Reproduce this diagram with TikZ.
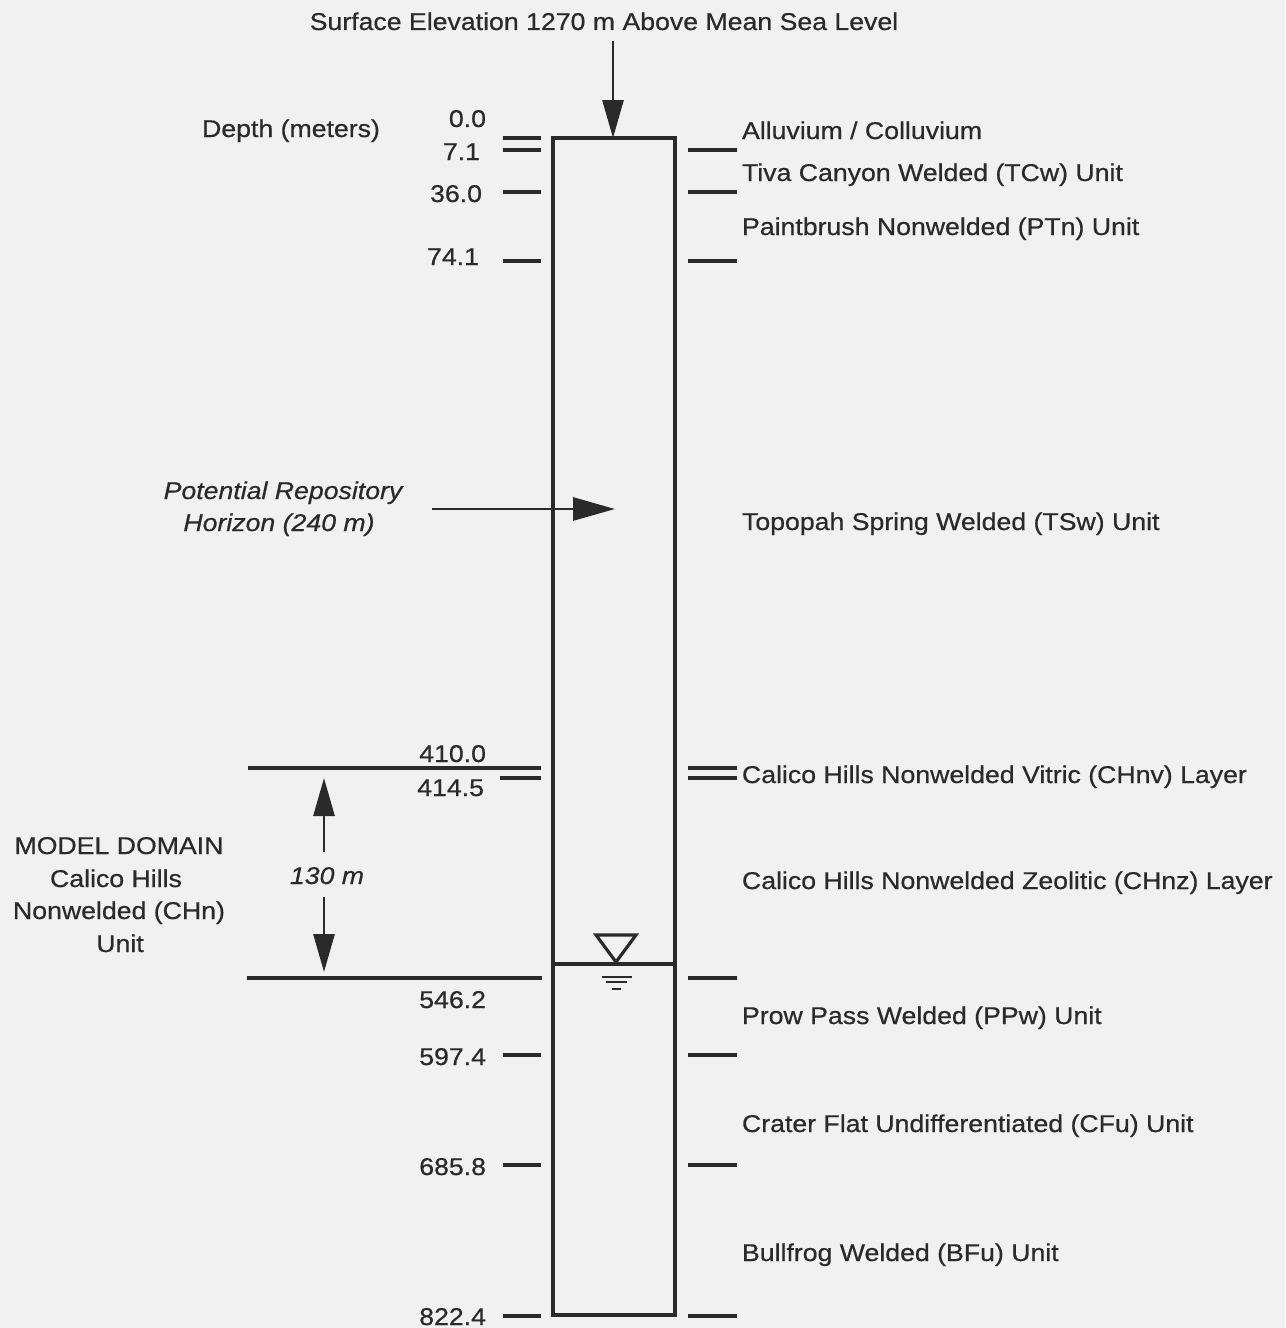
\documentclass[tikz,border=0pt]{standalone}
\usepackage{fontspec}
\setmainfont[FakeStretch=1.1,FakeBold=0.6]{Liberation Sans}
\usetikzlibrary{arrows.meta}
\definecolor{ink}{HTML}{2A2A2A}
\definecolor{paper}{HTML}{F1F1F1}
\begin{document}
\begin{tikzpicture}[x=0.02cm,y=-0.02cm,
  lbl/.style={inner sep=0pt, outer sep=0pt, text=ink, font=\fontsize{13.8}{16}\selectfont},
  num/.style={lbl, anchor=base east},
  unitlbl/.style={lbl, anchor=base west},
  centerlbl/.style={lbl, anchor=base},
  itlbl/.style={centerlbl, font=\fontsize{13.8}{16}\selectfont\itshape},
  tick/.style={draw=ink, line width=2pt},
  col/.style={draw=ink, line width=2pt},
  bigarrow/.style={draw=ink, line width=1.6pt, -{Triangle[length=0.76cm,width=0.42cm]}},
]
\fill[paper] (0,0) rectangle (1285,1328);
\useasboundingbox (0,0) rectangle (1285,1328);

% title and top arrow
\node[centerlbl] (title) at (604,30) {Surface Elevation 1270 m Above Mean Sea Level};
\coordinate (topstart) at (613,41);
\coordinate (boxtl) at (553,138);
\coordinate (boxbr) at (675,1315);
\coordinate (toptip) at (613,138);

% column
\draw[col] (boxtl) rectangle (boxbr);
\draw[bigarrow] (topstart) -- (toptip);

% left header
\node[centerlbl] (depth) at (291,137) {Depth (meters)};

% depth numbers
\node[num] (d00)  at (486,127) {0.0};
\node[num] (d71)  at (480,160) {7.1};
\node[num] (d360) at (482,202) {36.0};
\node[num] (d741) at (479,265) {74.1};
\node[num] (d4100) at (486,762) {410.0};
\node[num] (d4145) at (484,796) {414.5};
\node[num] (d5462) at (486,1008) {546.2};
\node[num] (d5974) at (486,1065) {597.4};
\node[num] (d6858) at (486,1175) {685.8};
\node[num] (d8224) at (486,1325) {822.4};

% left ticks
\foreach \y in {138,150,192,261,1055,1165,1316}
  \draw[tick] (503,\y) -- (541,\y);
\draw[tick] (500,778) -- (541,778);
\draw[tick] (248,768) -- (541,768);
\draw[tick] (247,978) -- (542,978);

% right ticks
\foreach \y in {150,192,261,768,778,978,1055,1165,1316}
  \draw[tick] (688,\y) -- (737,\y);

% unit labels
\node[unitlbl] (alluv) at (742,139) {Alluvium / Colluvium};
\node[unitlbl] (tcw)   at (742,181) {Tiva Canyon Welded (TCw) Unit};
\node[unitlbl] (ptn)   at (742,235) {Paintbrush Nonwelded (PTn) Unit};
\node[unitlbl] (tsw)   at (742,530) {Topopah Spring Welded (TSw) Unit};
\node[unitlbl] (chnv)  at (742,783) {Calico Hills Nonwelded Vitric (CHnv) Layer};
\node[unitlbl] (chnz)  at (742,889) {Calico Hills Nonwelded Zeolitic (CHnz) Layer};
\node[unitlbl] (ppw)   at (742,1024) {Prow Pass Welded (PPw) Unit};
\node[unitlbl] (cfu)   at (742,1132) {Crater Flat Undifferentiated (CFu) Unit};
\node[unitlbl] (bfu)   at (742,1261) {Bullfrog Welded (BFu) Unit};

% repository horizon
\node[itlbl] (rep1) at (283,499) {Potential Repository};
\node[itlbl] (rep2) at (279,531) {Horizon (240 m)};
\coordinate (repstart) at (432,509);
\coordinate (reptip) at (615,509);
\draw[draw=ink, line width=1.6pt, -{Triangle[length=0.84cm,width=0.46cm]}] (repstart) -- (reptip);

% model domain
\node[centerlbl] (md1) at (119,854) {MODEL DOMAIN};
\node[centerlbl] (md2) at (116,887) {Calico Hills};
\node[centerlbl] (md3) at (119,919) {Nonwelded (CHn)};
\node[centerlbl] (md4) at (120,952) {Unit};

% 130 m dimension
\node[itlbl] (dim) at (327,884) {130 m};
\coordinate (dimtop) at (324,778);
\coordinate (dimbot) at (324,972);
\coordinate (dimup) at (324,852);
\coordinate (dimdn) at (324,897);
\draw[bigarrow] (dimup) -- (dimtop);
\draw[bigarrow] (dimdn) -- (dimbot);

% water table
\draw[col] (553,964) -- (675,964);
\draw[draw=ink, line width=1.8pt, line join=miter] (596,935) -- (636,935) -- (616,962) -- cycle;
\draw[draw=ink, line width=1.3pt] (602,977) -- (632,977);
\draw[draw=ink, line width=1.3pt] (606,982) -- (627,982);
\draw[draw=ink, line width=1.3pt] (612,989) -- (621,989);
\end{tikzpicture}
\end{document}
